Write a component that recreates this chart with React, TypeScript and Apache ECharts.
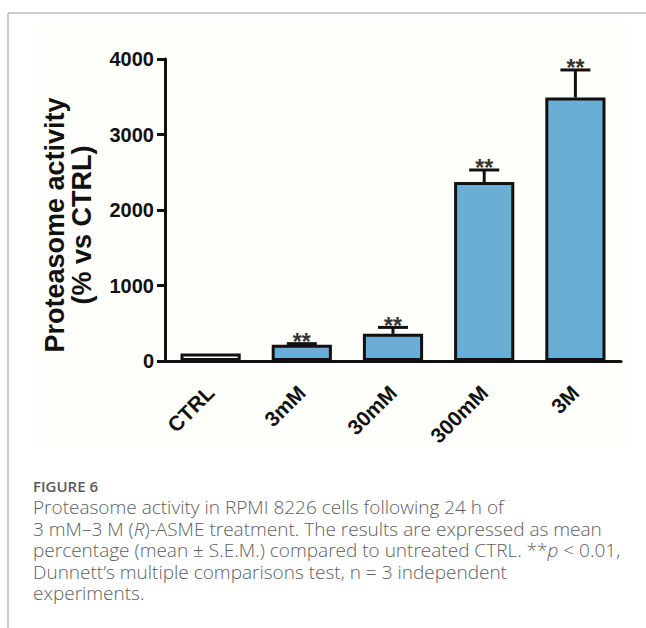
import React, { useEffect, useRef } from "react";
import * as echarts from "echarts";

const categories = ["CTRL", "3mM", "30mM", "300mM", "3M"];
const means = [100, 215, 360, 2370, 3490];
const sems = [0, 15, 85, 160, 365];
const marks = ["", "**", "**", "**", "**"];
const barColors = ["#ffffff", "#6aadd5", "#6aadd5", "#6aadd5", "#6aadd5"];
const yMin = 0;
const yMax = 4000;
const yStep = 1000;
const yNameLines = ["Proteasome activity", "(% vs CTRL)"];
const figLabel = "FIGURE 6";
const captionLines = [
  "Proteasome activity in RPMI 8226 cells following 24 h of",
  "3 mM\u20133 M ({i|R})-ASME treatment. The results are expressed as mean",
  "percentage (mean \u00b1 S.E.M.) compared to untreated CTRL. **{i|p} < 0.01,",
  "Dunnett\u2019s multiple comparisons test, n = 3 independent",
  "experiments.",
];

const AX = "#111111";
const FONT = "'Liberation Sans', Arial, sans-serif";
const CAP_FONT = "'Open Sans', Lato, sans-serif";

export default function App() {
  const ref = useRef<HTMLDivElement>(null);
  useEffect(() => {
    const chart = echarts.init(ref.current as HTMLDivElement, null, { renderer: "svg" });
    const gridLeft = 165;
    const gridTop = 59;
    const gridBottom = 267;
    const capStep = 21.5;
    const capFirstCenter = 507;
    const capSize = 19;
    const graphics: any[] = [
      { type: "rect", z: -10, shape: { x: 36, y: 22, width: 591, height: 425 }, style: { fill: "#fefefa" }, silent: true },
      { type: "line", shape: { x1: 8, y1: 13, x2: 646, y2: 13 }, style: { stroke: "#bdbdbd", lineWidth: 1.5 } },
      { type: "line", shape: { x1: 8, y1: 13, x2: 8, y2: 628 }, style: { stroke: "#bdbdbd", lineWidth: 1.5 } },
      {
        type: "text",
        x: 55,
        y: 225,
        rotation: Math.PI / 2,
        style: { text: yNameLines[0], font: `bold 27px ${FONT}`, fill: AX, textAlign: "center", textVerticalAlign: "middle" },
      },
      {
        type: "text",
        x: 82,
        y: 225,
        rotation: Math.PI / 2,
        style: { text: yNameLines[1], font: `bold 27px ${FONT}`, fill: AX, textAlign: "center", textVerticalAlign: "middle" },
      },
      {
        type: "text",
        x: 33,
        y: 486,
        style: { text: figLabel, font: `600 15px ${CAP_FONT}`, fill: "#5a5a5a", textAlign: "left", textVerticalAlign: "middle" },
      },
      {
        type: "text",
        x: 33,
        y: capFirstCenter - capStep / 2,
        style: {
          text: captionLines.join("\n"),
          font: `300 ${capSize}px ${CAP_FONT}`,
          fill: "#606060",
          lineHeight: capStep,
          textAlign: "left",
          textVerticalAlign: "top",
          rich: {
            i: {
              fontStyle: "italic",
              fontWeight: 300,
              fontSize: capSize,
              fontFamily: CAP_FONT,
              fill: "#606060",
              lineHeight: capStep,
            },
          },
        },
      },
    ];

    chart.setOption({
      animation: false,
      backgroundColor: "#ffffff",
      grid: { left: gridLeft, right: 25, top: gridTop, bottom: gridBottom },
      xAxis: {
        type: "category",
        data: categories,
        axisLine: { lineStyle: { color: AX, width: 3 } },
        axisTick: { alignWithLabel: true, length: 10, lineStyle: { color: AX, width: 3 } },
        axisLabel: { rotate: 45, margin: 28, color: AX, fontFamily: FONT, fontWeight: "bold", fontSize: 21 },
        splitLine: { show: false },
      },
      yAxis: {
        type: "value",
        min: yMin,
        max: yMax,
        interval: yStep,
        axisLine: { show: true, lineStyle: { color: AX, width: 3 } },
        axisTick: { show: true, length: 8, lineStyle: { color: AX, width: 3 } },
        axisLabel: {
          margin: 11,
          color: AX,
          fontFamily: FONT,
          fontWeight: "bold",
          fontSize: 20,
          formatter: (v: number) => String(v),
        },
        splitLine: { show: false },
      },
      series: [
        {
          type: "bar",
          barWidth: "66%",
          data: means.map((v, i) => ({
            value: v,
            itemStyle: { color: barColors[i], borderColor: AX, borderWidth: 3 },
          })),
        },
        {
          type: "custom",
          encode: { x: 0, y: 1 },
          z: 3,
          data: categories.map((_, i) => [i, means[i], sems[i]]),
          renderItem: (params: any, api: any) => {
            const idx = params.dataIndex;
            const i = api.value(0);
            const m = api.value(1);
            const s = api.value(2);
            const base = api.coord([i, m]);
            const top = api.coord([i, m + s]);
            const half = 15;
            const children: any[] = [];
            if (s > 0) {
              children.push({
                type: "line",
                shape: { x1: base[0], y1: base[1], x2: top[0], y2: top[1] },
                style: { stroke: AX, lineWidth: 3 },
              });
              children.push({
                type: "line",
                shape: { x1: top[0] - half, y1: top[1], x2: top[0] + half, y2: top[1] },
                style: { stroke: AX, lineWidth: 3 },
              });
            }
            if (marks[idx]) {
              children.push({
                type: "text",
                x: top[0],
                y: top[1] + 10,
                style: {
                  text: marks[idx],
                  font: `bold 23px ${FONT}`,
                  fill: "#333333",
                  textAlign: "center",
                  textVerticalAlign: "bottom",
                },
              });
            }
            return { type: "group", children };
          },
        },
      ],
      graphic: graphics,
    });
    return () => chart.dispose();
  }, []);
  return <div ref={ref} style={{ position: "fixed", left: 0, top: 0, width: 646, height: 628 }} />;
}
